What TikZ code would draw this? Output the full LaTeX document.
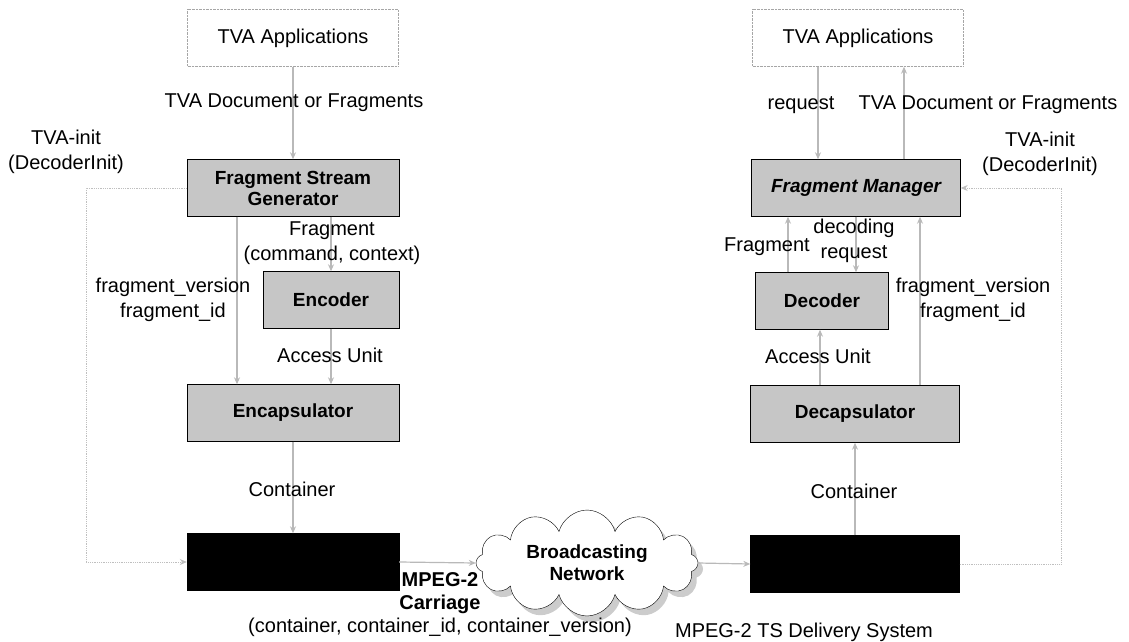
\documentclass[tikz,border=0pt]{standalone}
\usepackage{fontspec}
\setmainfont{Liberation Sans}
\usepackage{tikz}
\usetikzlibrary{arrows.meta}
\usetikzlibrary{shapes.symbols, shadows}

\tikzset{
    appbox/.style={draw=gray!70, densely dotted, minimum width=211pt, minimum height=57pt,
        font=\fontsize{20}{24}\selectfont},
    procbox/.style={draw=black, fill=gray!45, minimum height=57pt, align=center,
        font=\fontsize{19}{21}\selectfont\bfseries},
    tsbox/.style={draw=black, fill=black, minimum width=211pt, minimum height=57pt},
    lbl/.style={align=center, inner sep=1pt, font=\fontsize{20}{25}\selectfont},
    flow/.style={draw=gray!55, line width=1.2pt, -{Stealth[length=7pt,width=6pt]}},
    initflow/.style={draw=gray!50, line width=0.8pt, densely dotted, -{Stealth[length=7pt,width=6pt]}},
}

\begin{document}
\begin{tikzpicture}[x=1pt, y=-1pt]
    \useasboundingbox (0,0) rectangle (1129,642);

    % sending side
    \node[appbox] (appL) at (293,38) {TVA Applications};
    \node[procbox, minimum width=212pt] (fsg) at (293,188) {Fragment Stream\\Generator};
    \node[procbox, minimum width=136pt] (enc) at (331,300) {Encoder};
    \node[procbox, minimum width=212pt] (encap) at (293,413) {Encapsulator};
    \node[tsbox, minimum width=212pt] (mpegL) at (293,562) {};

    % receiving side
    \node[appbox] (appR) at (858,38) {TVA Applications};
    \node[procbox, minimum width=209pt, font=\fontsize{19}{21}\selectfont\bfseries\itshape] (fm) at (856,188) {Fragment Manager};
    \node[procbox, minimum width=133pt] (dec) at (822,301) {Decoder};
    \node[procbox, minimum width=209pt] (decap) at (855,414) {Decapsulator};
    \node[tsbox, minimum width=209pt] (mpegR) at (855,564) {};

    % network in between
    \node[cloud, cloud puffs=12, aspect=2.5, draw=black, fill=white,
        drop shadow={shadow xshift=5pt, shadow yshift=-6pt, fill=gray!80},
        minimum width=222pt, minimum height=88pt, align=center,
        font=\fontsize{19}{22}\selectfont\bfseries] (net) at (587,563) {Broadcasting\\Network};

    \coordinate (loopL) at (86,188);
    \coordinate (loopR) at (1061,564);

    % connectors, sending side
    \draw[flow] (appL.south) -- (fsg.north);
    \draw[flow] (fsg.south -| enc.north) -- (enc.north);
    \draw[flow] ([xshift=-56pt]fsg.south) -- ([xshift=-56pt]encap.north);
    \draw[flow] (enc.south) -- (enc.south |- encap.north);
    \draw[flow] (encap.south) -- (mpegL.north);
    \draw[initflow] (fsg.west) -- (loopL) |- (mpegL.west);

    % connectors, network
    \draw[flow] (mpegL.east) -- (net.west);
    \draw[flow] (net.east) -- (mpegR.west);

    % connectors, receiving side
    \draw[flow] ([xshift=-40pt]appR.south) -- ([xshift=-38pt]fm.north);
    \draw[flow] ([xshift=48pt]fm.north) -- ([xshift=46pt]appR.south);
    \draw[flow] ([xshift=-34pt]dec.north) -- ([xshift=-34pt]dec.north |- fm.south);
    \draw[flow] (fm.south) -- (fm.south |- dec.north);
    \draw[flow] ([xshift=65pt]decap.north) -- ([xshift=65pt]decap.north |- fm.south);
    \draw[flow] ([xshift=-35pt]decap.north) -- ([xshift=-35pt]decap.north |- dec.south);
    \draw[flow] (mpegR.north) -- (decap.south);
    \draw[initflow] (mpegR.east) -- (loopR) |- (fm.east);

    % labels, sending side
    \node[lbl] (docL) at (294,103) {TVA Document or Fragments};
    \node[lbl] (initL) at (66,152) {TVA-init\\(DecoderInit)};
    \node[lbl] (fragL) at (332,243) {Fragment\\(command, context)};
    \node[lbl] (verL) at (173,300) {fragment\_version\\fragment\_id};
    \node[lbl] (auL) at (330,355) {Access Unit};
    \node[lbl] (contL) at (292,489) {Container};
    \node[lbl, font=\fontsize{20}{23}\selectfont] (carr) at (440,605)
        {\textbf{MPEG-2}\\\textbf{Carriage}\\(container, container\_id, container\_version)};

    % labels, receiving side
    \node[lbl] (reqR) at (801,105) {request};
    \node[lbl] (docR) at (988,105) {TVA Document or Fragments};
    \node[lbl] (initR) at (1040,154) {TVA-init\\(DecoderInit)};
    \node[lbl] (fragR) at (767,247) {Fragment};
    \node[lbl] (decreq) at (854,241) {decoding\\request};
    \node[lbl] (verR) at (973,300) {fragment\_version\\fragment\_id};
    \node[lbl] (auR) at (818,356) {Access Unit};
    \node[lbl] (contR) at (854,491) {Container};
    \node[lbl] (deliv) at (804,632) {MPEG-2 TS Delivery System};
\end{tikzpicture}
\end{document}
